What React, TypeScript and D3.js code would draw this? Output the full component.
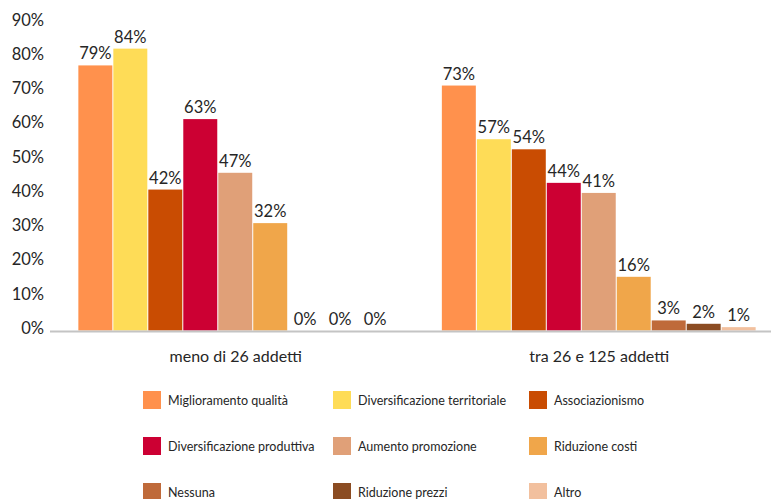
import React from "react";
import * as d3 from "d3";

const groups = ["meno di 26 addetti", "tra 26 e 125 addetti"];
const series = [
  "Miglioramento qualità",
  "Diversificazione territoriale",
  "Associazionismo",
  "Diversificazione produttiva",
  "Aumento promozione",
  "Riduzione costi",
  "Nessuna",
  "Riduzione prezzi",
  "Altro",
];
const colors = [
  "#FF914D",
  "#FEDC57",
  "#C94C02",
  "#CC0033",
  "#E0A078",
  "#F0A64A",
  "#BF6A3A",
  "#8B4C22",
  "#F2C09E",
];
const valuesSmall = [79, 84, 42, 63, 47, 32, 0, 0, 0];
const valuesMedium = [73, 57, 54, 44, 41, 16, 3, 2, 1];
const groupValues = [valuesSmall, valuesMedium];
const yTicks = [0, 10, 20, 30, 40, 50, 60, 70, 80, 90];

const W = 771;
const H = 499;
const FONT = "Lato, 'DejaVu Sans', sans-serif";
const TEXT = "#262626";

export default function App() {
  const x0 = d3
    .scaleBand<string>()
    .domain(groups)
    .range([54, 781])
    .paddingInner(0.134)
    .paddingOuter(0.067);
  const x1 = d3
    .scaleBand<string>()
    .domain(series)
    .range([0, x0.bandwidth()]);
  const y = d3.scaleLinear().domain([0, 90]).range([330.5, 28.5]);
  const yLabel = d3.scaleLinear().domain([0, 90]).range([328, 19.5]);

  const legendCols = [143, 333, 529];
  const legendRow0 = 391;
  const legendRowStep = 46;

  return (
    <svg
      width={W}
      height={H}
      style={{ position: "absolute", left: 0, top: 0, background: "#fff" }}
      fontFamily={FONT}
    >
      {/* y tick labels */}
      {yTicks.map((t) => (
        <text
          key={t}
          x={44}
          y={yLabel(t)}
          textAnchor="end"
          dominantBaseline="central"
          fontSize={16.5}
          fill={TEXT}
        >
          {d3.format(".0%")(t / 100)}
        </text>
      ))}

      {/* bars */}
      {groups.map((g, gi) => (
        <g key={g} transform={`translate(${x0(g)},0)`}>
          {series.map((s, si) => {
            const v = groupValues[gi][si];
            const bx = x1(s) as number;
            return (
              <g key={s}>
                {v > 0 && (
                  <rect
                    x={bx}
                    y={y(v)}
                    width={x1.bandwidth() - 1}
                    height={y(0) - y(v)}
                    fill={colors[si]}
                  />
                )}
              </g>
            );
          })}
        </g>
      ))}

      {/* axis line */}
      <line x1={50} x2={W} y1={331.5} y2={331.5} stroke="#C4C4C4" strokeWidth={2} />

      {/* value labels */}
      {groups.map((g, gi) => (
        <g key={g + "-lab"} transform={`translate(${x0(g)},0)`}>
          {series.map((s, si) => {
            const v = groupValues[gi][si];
            const bx = (x1(s) as number) + (x1.bandwidth() - 1) / 2;
            return (
              <text
                key={s}
                x={bx}
                y={y(v) - 6}
                textAnchor="middle"
                fontSize={16.5}
                fill={TEXT}
              >
                {v}%
              </text>
            );
          })}
        </g>
      ))}

      {/* category labels */}
      {groups.map((g) => (
        <text
          key={g + "-cat"}
          x={(x0(g) as number) + x0.bandwidth() / 2}
          y={362}
          textAnchor="middle"
          fontSize={16}
          fill={TEXT}
        >
          {g}
        </text>
      ))}

      {/* legend */}
      {series.map((s, i) => {
        const cx = legendCols[i % 3];
        const cy = legendRow0 + Math.floor(i / 3) * legendRowStep;
        return (
          <g key={s + "-leg"}>
            <rect x={cx} y={cy} width={18} height={18} fill={colors[i]} />
            <text
              x={cx + 25}
              y={cy + 9}
              dominantBaseline="central"
              fontSize={12.5}
              fill={TEXT}
            >
              {s}
            </text>
          </g>
        );
      })}
    </svg>
  );
}
